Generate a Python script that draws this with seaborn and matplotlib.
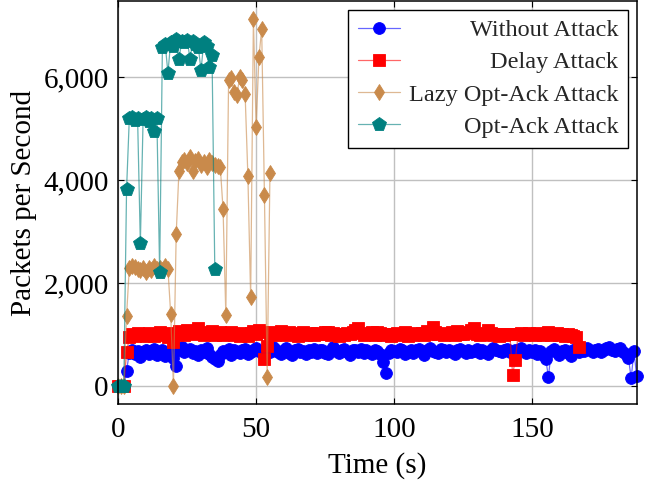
import matplotlib
matplotlib.use("Agg")
import matplotlib.pyplot as plt
from matplotlib.ticker import FuncFormatter
import numpy as np
import pandas as pd
import seaborn as sns


# packets per second, one value per second starting at t = 0
WITHOUT_ATTACK = [
    0, 0, 0, 290, 640, 700, 620, 680, 560, 650,
    700, 610, 670, 720, 600, 640, 690, 580, 660, 620,
    540, 375, 700, 760, 650, 690, 720, 630, 680, 600,
    700, 660, 740, 620, 560, 520, 490, 600, 680, 650,
    720, 600, 690, 650, 640, 700, 720, 620, 660, 700,
    740, 680, 640, 600, 700, 660, 760, 710, 650, 620,
    700, 730, 640, 600, 690, 720, 650, 680, 620, 700,
    660, 720, 640, 690, 700, 630, 610, 700, 750, 680,
    640, 700, 720, 650, 600, 690, 700, 660, 720, 640,
    700, 650, 620, 700, 680, 620, 470, 245, 640, 700,
    680, 650, 720, 700, 610, 660, 700, 640, 690, 720,
    650, 600, 700, 740, 680, 660, 640, 710, 690, 650,
    700, 660, 620, 690, 720, 670, 640, 700, 650, 680,
    720, 640, 700, 660, 610, 690, 740, 700, 680, 650,
    700, 720, 660, 640, 690, 700, 730, 680, 640, 700,
    660, 700, 620, 680, 600, 520, 170, 680, 720, 650,
    600, 680, 700, 640, 580, 690, 720, 650, 700, 680,
    740, 700, 650, 690, 720, 660, 700, 740, 760, 700,
    680, 720, 740, 650, 620, 540, 144, 680, 182,
]

DELAY_ATTACK = [
    0, 0, 0, 650, 940, 1000, 960, 1020, 980, 1000,
    970, 1030, 990, 960, 1010, 1040, 980, 1000, 950, 1020,
    860, 1000, 1060, 1020, 990, 1080, 1040, 1000, 1060, 1125,
    1050, 990, 1030, 1000, 1070, 980, 1010, 1040, 990, 1020,
    1000, 1050, 980, 1010, 970, 1030, 1000, 960, 1020, 1060,
    1000, 1090, 1040, 525, 780, 1000, 1050, 990, 1020, 1060,
    1010, 980, 1040, 1000, 1020, 970, 1010, 1050, 990, 1000,
    1030, 980, 1020, 1000, 1010, 1040, 1055, 990, 1020, 1000,
    970, 1010, 990, 1030, 1000, 1050, 1080, 1125, 1020, 990,
    1010, 1000, 1040, 980, 1050, 1020, 990, 1000, 1010, 960,
    1000, 1020, 980, 1000, 1040, 970, 1010, 990, 1030, 1000,
    1020, 980, 1060, 1000, 1140, 1040, 1000, 1020, 980, 1010,
    1000, 1040, 990, 1060, 1010, 1000, 1050, 1020, 1080, 1120,
    1010, 990, 1030, 1000, 1080, 1020, 990, 1000, 960, 1010,
    980, 1000, 1010, 215, 505, 1000, 1020, 990, 1000, 1030,
    1000, 980, 1020, 1000, 990, 1010, 1040, 980, 1000, 1020,
    990, 1010, 970, 1000, 980, 960, 940, 750,
]

LAZY_OPT_ACK = [
    0, 0, 0, 1360,
    2300, 2330, 2310, 2280, 2250, 2300, 2220, 2290, 2250, 2330,
    2280, 2300, 2250, 2320, 2280,
    1400, 0, 2950, 4180,
    4350, 4400, 4330, 4450, 4180, 4380, 4420, 4300, 4350, 4260,
    4400, 4330, 4300, 4280, 4250,
    3430, 1380, 5940, 5980, 5720, 5650, 6000, 5950, 5670, 4080,
    1730, 7130, 5035, 6390, 6945, 3710, 170, 4130,
]

OPT_ACK = [
    0, 0, 0, 3820,
    5200, 5230, 5180, 5210, 2775, 5190, 5220, 5150, 5200, 4960,
    5200, 2220,
    6600, 6650, 6090, 6680, 6620, 6750, 6360, 6700, 6680, 6730,
    6360, 6700, 6650, 6600, 6140, 6680, 6620, 6200, 6430, 2265,
]

SERIES = [
    ("Without Attack", WITHOUT_ATTACK, "#0000ff", "o", 8.5),
    ("Delay Attack", DELAY_ATTACK, "#ff0000", "s", 8.0),
    ("Lazy Opt-Ack Attack", LAZY_OPT_ACK, "#c98a4b", "d", 8.0),
    ("Opt-Ack Attack", OPT_ACK, "#008080", "p", 10.0),
]

X_TICKS = [0, 50, 100, 150]
Y_TICKS = [0, 2000, 4000, 6000]


def build_frame():
    frames = []
    for name, values, *_ in SERIES:
        frames.append(pd.DataFrame({
            "time": np.arange(len(values)),
            "pps": values,
            "series": name,
        }))
    return pd.concat(frames, ignore_index=True)


def main():
    sns.set_style("white")
    plt.rcParams["font.family"] = ["Liberation Serif", "DejaVu Serif"]

    df = build_frame()

    fig = plt.figure(figsize=(6.46, 4.82), dpi=100)
    ax = fig.add_axes([0.1831, 0.1618, 0.8025, 0.8361])

    for name, _, color, marker, size in SERIES:
        sub = df[df["series"] == name]
        line_color = matplotlib.colors.to_rgba(color, 0.6)
        sns.lineplot(
            data=sub, x="time", y="pps", ax=ax,
            color=line_color, linewidth=0.9,
            marker=marker, markersize=size,
            markerfacecolor=color, markeredgecolor=color,
            markeredgewidth=0.6,
            label=name, clip_on=False,
            solid_joinstyle="miter",
            estimator=None, sort=False,
        )

    ax.set_xlim(0, 188)
    ax.set_ylim(-356, 7486)
    ax.set_xticks(X_TICKS)
    ax.set_yticks(Y_TICKS)
    ax.yaxis.set_major_formatter(FuncFormatter(lambda v, _: f"{v:,.0f}"))

    ax.grid(True, color="#c0c0c0", linewidth=1.0)
    ax.set_axisbelow(True)
    for spine in ax.spines.values():
        spine.set_color("black")
        spine.set_linewidth(1.1)

    ax.tick_params(direction="in", length=4, width=0.8, color="black",
                   top=True, right=True, bottom=True, left=True,
                   labelsize=21, labelcolor="black")
    ax.tick_params(axis="x", pad=9)
    ax.tick_params(axis="y", pad=7)

    ax.set_xlabel("Time (s)", fontsize=21, color="black")
    ax.set_ylabel("Packets per Second", fontsize=21, color="black")
    ax.xaxis.set_label_coords(0.5, -0.119)
    ax.yaxis.set_label_coords(-0.157, 0.5)

    leg = ax.legend(loc="upper right", fontsize=17.5, frameon=True,
                    fancybox=False, framealpha=1, edgecolor="black",
                    borderaxespad=0.35, handlelength=1.75,
                    handletextpad=0.35, labelspacing=0.42,
                    borderpad=0.4)
    leg.get_frame().set_linewidth(1.0)

    # right-align legend texts the way pgfplots does
    fig.canvas.draw()
    renderer = fig.canvas.get_renderer()
    widths = [t.get_window_extent(renderer).width for t in leg.get_texts()]
    longest = max(widths)
    for t, w in zip(leg.get_texts(), widths):
        t.set_position((longest - w, 0))

    fig.savefig("out.png", dpi=100)
    plt.close(fig)


if __name__ == "__main__":
    main()
